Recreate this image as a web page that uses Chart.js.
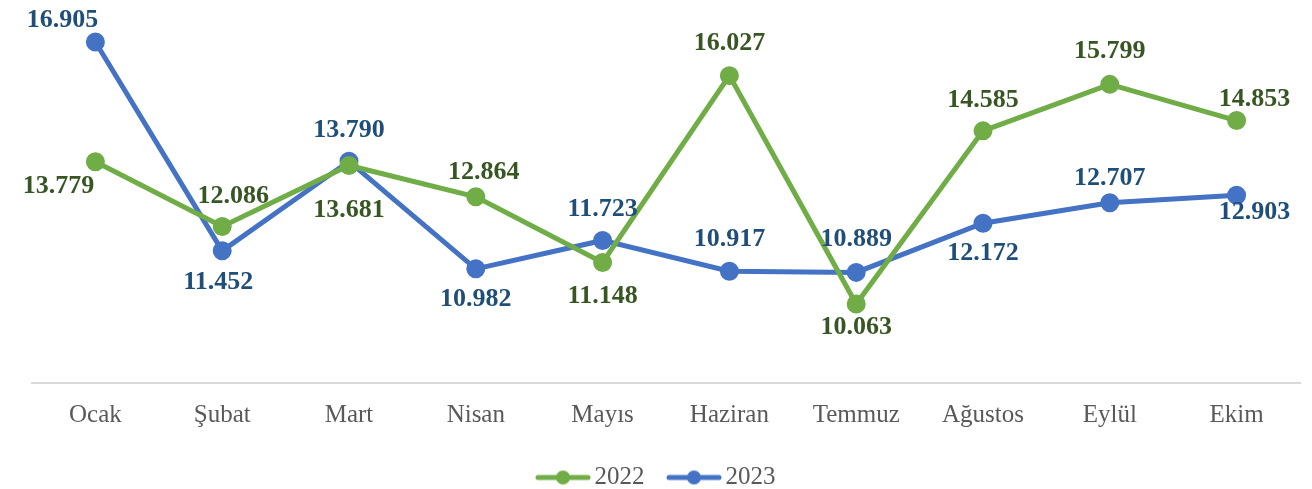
<!DOCTYPE html>
<html>
<head>
<meta charset="utf-8">
<script src="https://cdn.jsdelivr.net/npm/chart.js@4"></script>
<style>
  html, body { margin: 0; padding: 0; background: #fff; }
  #wrap { width: 1312px; height: 489px; }
</style>
</head>
<body>
<div id="wrap"><canvas id="chart"></canvas></div>
<script>
const months = ['Ocak', 'Şubat', 'Mart', 'Nisan', 'Mayıs', 'Haziran', 'Temmuz', 'Ağustos', 'Eylül', 'Ekim'];
const values2022 = [13.779, 12.086, 13.681, 12.864, 11.148, 16.027, 10.063, 14.585, 15.799, 14.853];
const values2023 = [16.905, 11.452, 13.790, 10.982, 11.723, 10.917, 10.889, 12.172, 12.707, 12.903];

// where each value label sits relative to its point (px)
const offsets2022 = [[-37, 25], [11, -30], [0, 45], [8, -24], [0, 34], [0, -32], [0, 23], [0, -31], [0, -33], [18, -21]];
const offsets2023 = [[-33, -22], [-4, 31], [0, -31], [0, 30], [0, -31], [0, -32], [0, -33], [0, 30], [0, -24], [18, 17]];

const green = '#70AD47', blue = '#4472C4';
const fmt = v => v.toFixed(3);

function legendIcon(color) {
  const c = document.createElement('canvas');
  c.width = 56; c.height = 16;
  const g = c.getContext('2d');
  g.strokeStyle = color; g.lineWidth = 5; g.lineCap = 'round';
  g.beginPath(); g.moveTo(3, 8); g.lineTo(53, 8); g.stroke();
  g.fillStyle = color;
  g.beginPath(); g.arc(28, 8, 7, 0, Math.PI * 2); g.fill();
  return c;
}

const valueLabels = {
  id: 'valueLabels',
  afterDatasetsDraw(chart) {
    const ctx = chart.ctx;
    ctx.save();
    ctx.font = 'bold 26px "Liberation Serif", "Times New Roman", serif';
    ctx.textAlign = 'center';
    ctx.textBaseline = 'middle';
    chart.data.datasets.forEach((ds, i) => {
      const meta = chart.getDatasetMeta(i);
      ctx.fillStyle = ds.labelColor;
      meta.data.forEach((pt, j) => {
        const o = ds.labelOffsets[j];
        ctx.fillText(fmt(ds.data[j]), pt.x + o[0], pt.y + o[1]);
      });
    });
    ctx.restore();
  }
};

new Chart(document.getElementById('chart'), {
  type: 'line',
  data: {
    labels: months,
    datasets: [
      {
        label: '2022', data: values2022,
        borderColor: green, backgroundColor: green,
        borderWidth: 5, pointRadius: 7, pointHoverRadius: 7,
        pointStyle: 'circle', tension: 0,
        labelColor: '#375623', labelOffsets: offsets2022,
        legendIcon: legendIcon(green)
      },
      {
        label: '2023', data: values2023,
        borderColor: blue, backgroundColor: blue,
        borderWidth: 5, pointRadius: 7, pointHoverRadius: 7,
        pointStyle: 'circle', tension: 0,
        labelColor: '#1F4E79', labelOffsets: offsets2023,
        legendIcon: legendIcon(blue)
      }
    ]
  },
  options: {
    responsive: true,
    maintainAspectRatio: false,
    animation: false,
    layout: { autoPadding: false, padding: { left: 32, right: 12, top: 2, bottom: -11 } },
    plugins: {
      tooltip: { enabled: false },
      legend: {
        position: 'bottom',
        labels: {
          color: '#595959',
          font: { family: '"Liberation Serif", "Times New Roman", serif', size: 25 },
          usePointStyle: true,
          pointStyleWidth: 38,
          padding: 18,
          generateLabels(chart) {
            return chart.data.datasets.map((ds, i) => ({
              text: ds.label + '  ',
              pointStyle: ds.legendIcon,
              fillStyle: ds.borderColor,
              strokeStyle: ds.borderColor,
              lineWidth: 0,
              fontColor: '#595959',
              hidden: false,
              datasetIndex: i
            }));
          }
        }
      }
    },
    scales: {
      x: {
        offset: true,
        grid: { display: false, drawTicks: false },
        border: { display: true, color: '#D9D9D9', width: 2 },
        ticks: {
          color: '#595959',
          padding: 17,
          font: { family: '"Liberation Serif", "Times New Roman", serif', size: 25 }
        }
      },
      y: {
        display: false,
        min: 8,
        max: 17.95
      }
    }
  },
  plugins: [valueLabels]
});
</script>
</body>
</html>
